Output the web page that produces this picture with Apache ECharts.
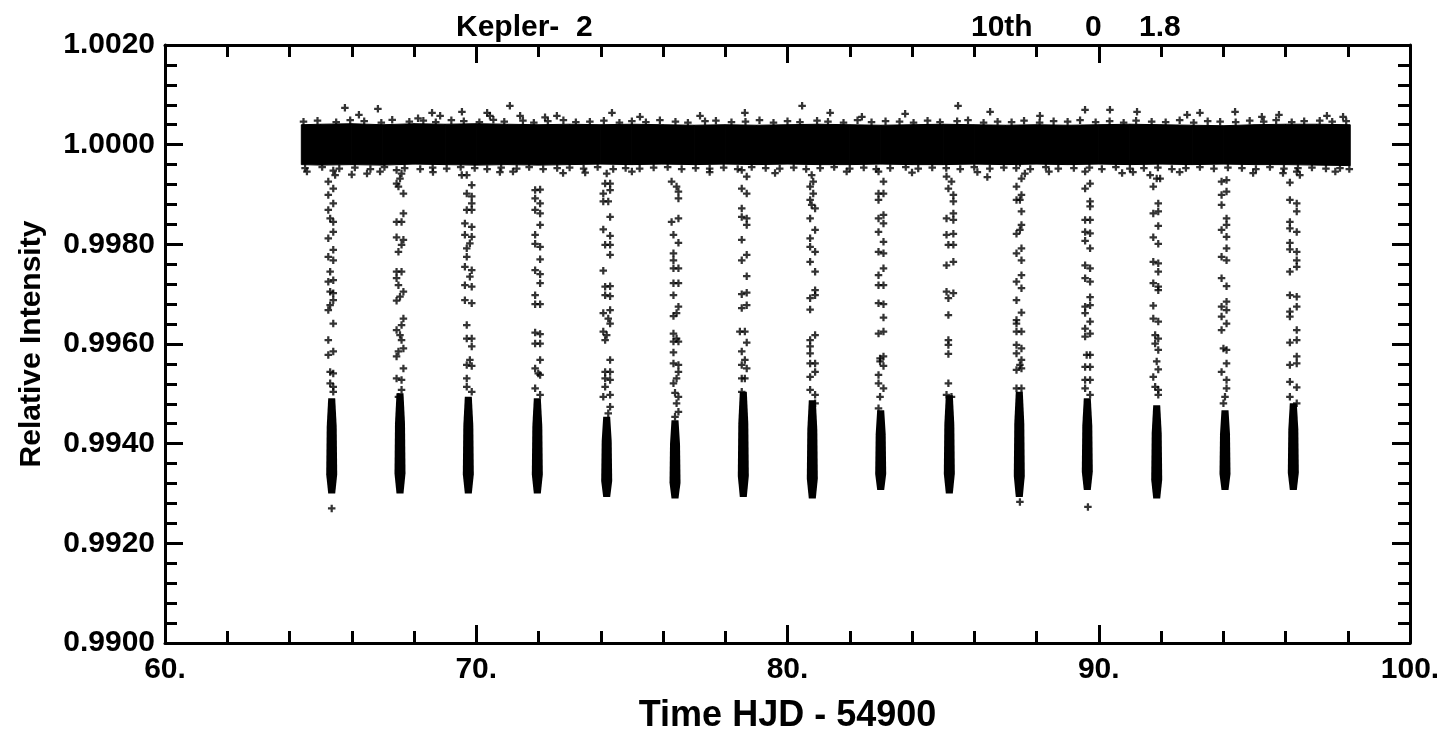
<!DOCTYPE html>
<html><head><meta charset="utf-8">
<script src="https://cdn.jsdelivr.net/npm/echarts@6/dist/echarts.min.js"></script>
<style>html,body{margin:0;padding:0;background:#fff}#c{width:1446px;height:732px}</style>
</head><body><div id="c"></div>
<script>
// ---- data ----
const xTickLabels = ['60.', '70.', '80.', '90.', '100.'];
const yTickLabels = ['0.9900', '0.9920', '0.9940', '0.9960', '0.9980', '1.0000', '1.0020'];

// out-of-transit band envelope (time, upper, lower)
const bandT  = [64.38, 65.0, 66.0, 67.0, 68.0, 69.0, 70.0, 71.0, 72.0, 73.0, 74.0, 75.0, 76.0, 77.0, 78.0, 79.0, 80.0, 81.0, 82.0, 83.0, 84.0, 85.0, 86.0, 87.0, 88.0, 89.0, 90.0, 91.0, 92.0, 93.0, 94.0, 95.0, 96.0, 97.0, 98.08];
const bandHi = [1.00040, 1.00041, 1.00042, 1.00040, 1.00042, 1.00041, 1.00042, 1.00041, 1.00040, 1.00041, 1.00040, 1.00041, 1.00040, 1.00039, 1.00040, 1.00039, 1.00040, 1.00041, 1.00040, 1.00039, 1.00040, 1.00041, 1.00040, 1.00039, 1.00040, 1.00039, 1.00040, 1.00041, 1.00040, 1.00039, 1.00038, 1.00040, 1.00041, 1.00041, 1.00040];
const bandLo = [0.99960, 0.99959, 0.99960, 0.99959, 0.99961, 0.99960, 0.99959, 0.99960, 0.99959, 0.99960, 0.99961, 0.99960, 0.99961, 0.99960, 0.99961, 0.99960, 0.99961, 0.99960, 0.99960, 0.99961, 0.99960, 0.99960, 0.99961, 0.99960, 0.99961, 0.99960, 0.99961, 0.99960, 0.99961, 0.99960, 0.99961, 0.99960, 0.99960, 0.99959, 0.99958];

// ragged edge points of the band
const topEdgeT = [64.45, 64.9, 65.5, 65.95, 66.4, 66.95, 67.3, 67.85, 68.3, 68.7, 69.2, 69.6, 70.1, 70.55, 70.9, 71.5, 71.85, 72.3, 72.8, 73.2, 73.65, 74.1, 74.6, 75.0, 75.45, 75.9, 76.4, 76.8, 77.35, 77.7, 78.2, 78.65, 79.1, 79.55, 80.0, 80.4, 80.95, 81.3, 81.8, 82.25, 82.7, 83.15, 83.6, 84.05, 84.5, 84.9, 85.45, 85.8, 86.3, 86.75, 87.2, 87.6, 88.1, 88.55, 89.0, 89.4, 89.9, 90.35, 90.8, 91.2, 91.7, 92.15, 92.6, 93.05, 93.5, 93.9, 94.4, 94.85, 95.3, 95.7, 96.2, 96.6, 97.1, 97.5, 97.95];
const topEdgeF = [1.00046, 1.00048, 1.00045, 1.00049, 1.00047, 1.00044, 1.00050, 1.00046, 1.00048, 1.00045, 1.00049, 1.00047, 1.00045, 1.00050, 1.00046, 1.00048, 1.00044, 1.00047, 1.00049, 1.00045, 1.00046, 1.00048, 1.00044, 1.00047, 1.00045, 1.00049, 1.00046, 1.00044, 1.00047, 1.00048, 1.00045, 1.00046, 1.00049, 1.00044, 1.00047, 1.00045, 1.00048, 1.00046, 1.00044, 1.00049, 1.00045, 1.00047, 1.00046, 1.00044, 1.00048, 1.00045, 1.00047, 1.00049, 1.00044, 1.00046, 1.00045, 1.00048, 1.00044, 1.00047, 1.00046, 1.00049, 1.00045, 1.00047, 1.00044, 1.00048, 1.00046, 1.00045, 1.00049, 1.00044, 1.00047, 1.00046, 1.00045, 1.00048, 1.00046, 1.00049, 1.00045, 1.00047, 1.00048, 1.00046, 1.00047];
const botEdgeT = [64.5, 65.05, 65.6, 66.1, 66.6, 67.05, 67.7, 68.2, 68.6, 69.05, 69.5, 69.95, 70.35, 70.8, 71.3, 71.7, 72.15, 72.6, 73.0, 73.45, 73.9, 74.4, 74.8, 75.25, 75.7, 76.15, 76.6, 77.05, 77.5, 77.95, 78.4, 78.85, 79.3, 79.75, 80.2, 80.6, 81.05, 81.5, 82.0, 82.45, 82.85, 83.3, 83.8, 84.2, 84.65, 85.1, 85.55, 86.0, 86.5, 86.95, 87.35, 87.8, 88.3, 88.7, 89.2, 89.7, 90.1, 90.55, 91.0, 91.45, 91.9, 92.35, 92.8, 93.25, 93.7, 94.15, 94.6, 95.05, 95.5, 95.95, 96.4, 96.85, 97.3, 97.75, 98.05];
const botEdgeF = [0.99953, 0.99955, 0.99952, 0.99954, 0.99951, 0.99955, 0.99953, 0.99951, 0.99954, 0.99952, 0.99955, 0.99953, 0.99951, 0.99954, 0.99952, 0.99955, 0.99951, 0.99953, 0.99954, 0.99952, 0.99955, 0.99951, 0.99953, 0.99952, 0.99954, 0.99955, 0.99951, 0.99953, 0.99952, 0.99954, 0.99951, 0.99955, 0.99953, 0.99952, 0.99954, 0.99951, 0.99953, 0.99955, 0.99952, 0.99954, 0.99951, 0.99953, 0.99955, 0.99952, 0.99954, 0.99953, 0.99951, 0.99955, 0.99952, 0.99954, 0.99953, 0.99951, 0.99955, 0.99952, 0.99953, 0.99954, 0.99951, 0.99955, 0.99952, 0.99953, 0.99954, 0.99951, 0.99953, 0.99955, 0.99952, 0.99954, 0.99953, 0.99951, 0.99955, 0.99952, 0.99953, 0.99954, 0.99952, 0.99953, 0.99951];

// scattered points outside the band (time, flux)
const outT = [65.78, 66.23, 66.84, 68.13, 68.58, 68.84, 69.54, 70.35, 70.44, 71.08, 71.41, 72.21, 72.59, 74.36, 75.26, 77.19, 78.63, 80.47, 81.37, 82.39, 83.78, 85.48, 86.51, 88.11, 89.56, 90.36, 91.23, 92.84, 93.25, 94.38, 95.24, 95.79, 97.33, 97.85,
              64.56, 66.00, 66.49, 66.91, 68.61, 70.76, 71.18, 72.79, 73.50, 75.00, 77.50, 79.60, 81.90, 84.00, 86.10, 86.42, 88.40, 90.75, 91.10, 92.60, 94.96, 95.92, 97.60];
const outF = [1.00074, 1.00060, 1.00072, 1.00053, 1.00064, 1.00058, 1.00066, 1.00064, 1.00058, 1.00078, 1.00058, 1.00055, 1.00058, 1.00064, 1.00056, 1.00058, 1.00064, 1.00078, 1.00064, 1.00056, 1.00062, 1.00078, 1.00066, 1.00058, 1.00070, 1.00070, 1.00066, 1.00060, 1.00064, 1.00066, 1.00056, 1.00060, 1.00058, 1.00056,
              0.99946, 0.99940, 0.99942, 0.99946, 0.99945, 0.99945, 0.99946, 0.99943, 0.99944, 0.99946, 0.99945, 0.99943, 0.99946, 0.99944, 0.99945, 0.99935, 0.99946, 0.99943, 0.99945, 0.99945, 0.99943, 0.99943, 0.99946];

// transit mid-times and the dense bottom of each transit
const transitT = [65.356, 67.550, 69.745, 71.962, 74.191, 76.386, 78.580, 80.797, 82.994, 85.199, 87.447, 89.632, 91.862, 94.056, 96.251];
const coreHi = [0.99491, 0.99501, 0.99494, 0.99491, 0.99454, 0.99447, 0.99504, 0.99487, 0.99467, 0.99497, 0.99504, 0.99491, 0.99477, 0.99467, 0.99481];
const coreLo = [0.99300, 0.99300, 0.99300, 0.99300, 0.99293, 0.99290, 0.99293, 0.99290, 0.99307, 0.99300, 0.99293, 0.99307, 0.99290, 0.99307, 0.99307];

// sparse in-transit points: [time offset from mid-transit, flux]
const transitPts = [
 [[0.05,0.99948],[0.11,0.99939],[-0.11,0.99926],[0.05,0.99912],[-0.11,0.99899],[0.05,0.99882],[-0.11,0.99869],[-0.05,0.99852],[0.05,0.99845],[0.05,0.99825],[-0.11,0.99812],[0.05,0.99789],[-0.11,0.99775],[0.05,0.99768],[-0.05,0.99745],[0.05,0.99728],[-0.11,0.99725],[-0.05,0.99705],[0.05,0.99702],[0.05,0.99688],[-0.05,0.99678],[-0.11,0.99668],[0.05,0.99641],[-0.11,0.99608],[0.05,0.99585],[-0.11,0.99578],[-0.05,0.99544],[0.05,0.99541],[-0.05,0.99521],[0.05,0.99514],[0.05,0.99504],[0,0.99270]],
 [[-0.11,0.99949],[0.05,0.99942],[0,0.99932],[-0.11,0.99922],[-0.05,0.99916],[0.11,0.99902],[0.11,0.99862],[-0.11,0.99845],[0.05,0.99845],[-0.11,0.99814],[0.11,0.99809],[0.05,0.99799],[-0.05,0.99785],[-0.11,0.99745],[0.05,0.99745],[-0.11,0.99732],[-0.05,0.99718],[0.11,0.99705],[0,0.99695],[-0.11,0.99687],[0.11,0.99651],[0.05,0.99638],[-0.11,0.99628],[0,0.99618],[0.05,0.99608],[0.11,0.99591],[-0.05,0.99585],[-0.11,0.99575],[0.11,0.99551],[-0.11,0.99531],[0.05,0.99528],[0.05,0.99508],[-0.05,0.99494]],
 [[-0.21,0.99939],[-0.05,0.99939],[0.11,0.99919],[-0.05,0.99902],[0.11,0.99896],[0.11,0.99882],[-0.05,0.99869],[0.11,0.99869],[-0.11,0.99842],[0.11,0.99835],[-0.11,0.99819],[0.11,0.99815],[0.05,0.99802],[-0.05,0.99792],[-0.05,0.99775],[-0.11,0.99755],[0.11,0.99748],[0.05,0.99735],[-0.11,0.99718],[0.11,0.99715],[-0.11,0.99688],[0.11,0.99682],[-0.05,0.99638],[-0.05,0.99611],[0.11,0.99611],[0.11,0.99595],[0.05,0.99568],[-0.05,0.99558],[0.11,0.99556],[-0.05,0.99531],[-0.05,0.99514],[0.11,0.99504]],
 [[-0.07,0.99909],[0.09,0.99910],[-0.07,0.99892],[0.09,0.99882],[-0.07,0.99869],[0.09,0.99862],[0.09,0.99839],[-0.07,0.99819],[-0.07,0.99801],[0.09,0.99795],[0.09,0.99770],[-0.07,0.99748],[0.09,0.99740],[0.09,0.99722],[-0.07,0.99698],[-0.07,0.99680],[0.09,0.99680],[-0.07,0.99623],[0.09,0.99620],[-0.07,0.99601],[0.09,0.99601],[0.09,0.99568],[-0.07,0.99551],[0.03,0.99541],[0.09,0.99538],[-0.07,0.99511],[0.09,0.99498]],
 [[0,0.99942],[-0.05,0.99922],[0.11,0.99922],[-0.11,0.99902],[0.11,0.99909],[-0.11,0.99886],[0.05,0.99886],[0.11,0.99855],[-0.11,0.99830],[0.11,0.99817],[-0.05,0.99799],[0.11,0.99799],[0.11,0.99779],[-0.11,0.99747],[-0.05,0.99715],[0.11,0.99716],[-0.05,0.99698],[0.11,0.99696],[-0.11,0.99662],[0.11,0.99668],[0.05,0.99651],[0.11,0.99641],[-0.11,0.99625],[0,0.99618],[-0.05,0.99608],[0.11,0.99568],[-0.05,0.99544],[0.11,0.99544],[-0.05,0.99531],[0.11,0.99528],[-0.05,0.99514],[-0.11,0.99494],[0.11,0.99498],[0.11,0.99474],[0.05,0.99461]],
 [[-0.11,0.99926],[0.05,0.99916],[0.11,0.99906],[0.11,0.99892],[-0.11,0.99845],[0.11,0.99852],[-0.05,0.99819],[0.11,0.99803],[-0.05,0.99782],[-0.05,0.99768],[-0.05,0.99752],[0.11,0.99752],[-0.05,0.99722],[0.11,0.99722],[-0.05,0.99698],[0.11,0.99675],[0.05,0.99662],[-0.05,0.99656],[-0.05,0.99621],[0.05,0.99611],[-0.05,0.99605],[0.11,0.99605],[-0.05,0.99583],[-0.05,0.99561],[0.11,0.99558],[0.11,0.99544],[0.05,0.99531],[-0.05,0.99521],[0,0.99502],[0.11,0.99494],[0.05,0.99481],[0.11,0.99464],[0,0.99454]],
 [[-0.05,0.99949],[0.11,0.99936],[-0.05,0.99912],[0.11,0.99902],[-0.05,0.99872],[-0.05,0.99855],[0.11,0.99852],[0.11,0.99839],[-0.05,0.99809],[-0.05,0.99768],[0.11,0.99779],[0.11,0.99736],[-0.05,0.99700],[0.11,0.99703],[-0.05,0.99672],[0.11,0.99678],[-0.11,0.99625],[0.05,0.99625],[0.11,0.99603],[-0.05,0.99585],[0.05,0.99568],[-0.05,0.99558],[0.11,0.99551],[-0.05,0.99531],[0.05,0.99531],[-0.05,0.99504]],
 [[-0.02,0.99939],[0.03,0.99926],[-0.07,0.99916],[0.03,0.99902],[-0.07,0.99889],[-0.02,0.99879],[0.09,0.99872],[-0.07,0.99852],[0.09,0.99829],[-0.07,0.99812],[-0.07,0.99795],[0.09,0.99785],[-0.07,0.99765],[0.09,0.99745],[0.09,0.99708],[-0.07,0.99692],[0.09,0.99698],[-0.07,0.99669],[0.09,0.99618],[-0.07,0.99608],[-0.07,0.99595],[-0.07,0.99581],[-0.07,0.99561],[0.09,0.99561],[-0.07,0.99534],[0.09,0.99544],[-0.07,0.99508],[0.09,0.99498],[0.09,0.99481]],
 [[-0.07,0.99946],[0.09,0.99926],[-0.07,0.99902],[0.09,0.99902],[-0.07,0.99889],[-0.07,0.99852],[0.09,0.99859],[0.09,0.99842],[-0.07,0.99825],[0.09,0.99805],[-0.07,0.99785],[0.09,0.99782],[0.09,0.99752],[-0.07,0.99738],[-0.07,0.99718],[0.09,0.99718],[-0.07,0.99682],[0.09,0.99680],[0.09,0.99653],[-0.07,0.99621],[0.09,0.99625],[-0.02,0.99571],[0.09,0.99575],[-0.02,0.99565],[0.09,0.99556],[-0.07,0.99538],[-0.07,0.99521],[0.09,0.99511],[-0.02,0.99494],[-0.07,0.99471]],
 [[-0.09,0.99936],[0.07,0.99926],[-0.03,0.99912],[0.13,0.99899],[0.13,0.99886],[0.13,0.99862],[-0.09,0.99852],[0.13,0.99849],[-0.09,0.99819],[0.13,0.99821],[-0.03,0.99799],[0.13,0.99799],[-0.09,0.99758],[0.13,0.99765],[-0.09,0.99705],[0.13,0.99702],[-0.03,0.99692],[-0.03,0.99658],[-0.03,0.99608],[-0.03,0.99598],[-0.03,0.99580],[-0.03,0.99521],[-0.09,0.99498],[0.07,0.99494]],
 [[0.02,0.99963],[0.18,0.99942],[0.07,0.99932],[-0.09,0.99916],[0.07,0.99899],[-0.09,0.99889],[0.02,0.99889],[0.07,0.99866],[0.07,0.99839],[0.02,0.99829],[-0.09,0.99821],[0.07,0.99792],[-0.09,0.99782],[0.07,0.99768],[0.07,0.99738],[-0.09,0.99725],[0.07,0.99712],[-0.09,0.99688],[0.07,0.99663],[-0.09,0.99648],[-0.09,0.99641],[-0.09,0.99625],[0.07,0.99625],[-0.09,0.99598],[0.07,0.99591],[-0.09,0.99581],[0.07,0.99568],[0.02,0.99558],[-0.09,0.99548],[0.07,0.99551],[-0.09,0.99511],[0.07,0.99511],[0.02,0.99283]],
 [[-0.07,0.99946],[0.09,0.99922],[-0.07,0.99912],[0.09,0.99886],[0.09,0.99876],[-0.07,0.99849],[0.09,0.99849],[-0.07,0.99825],[0.09,0.99822],[-0.07,0.99807],[0.09,0.99792],[-0.07,0.99758],[0.09,0.99752],[-0.07,0.99732],[0.09,0.99725],[0.09,0.99694],[-0.07,0.99675],[0.09,0.99678],[-0.07,0.99662],[0.09,0.99645],[-0.07,0.99631],[0.09,0.99621],[-0.07,0.99615],[-0.02,0.99578],[0.09,0.99578],[-0.07,0.99554],[0.09,0.99554],[-0.07,0.99528],[0.09,0.99528],[-0.07,0.99511],[0.09,0.99498],[0.02,0.99273]],
 [[-0.21,0.99939],[0,0.99932],[0.11,0.99932],[-0.11,0.99916],[0.05,0.99882],[-0.11,0.99862],[0.05,0.99866],[0.05,0.99837],[-0.11,0.99814],[0.05,0.99801],[-0.11,0.99765],[0.05,0.99762],[0.05,0.99745],[-0.11,0.99722],[0.05,0.99715],[0.05,0.99708],[-0.11,0.99677],[-0.11,0.99651],[0.05,0.99645],[-0.05,0.99618],[0.05,0.99611],[-0.05,0.99601],[0.05,0.99588],[0,0.99565],[0.05,0.99549],[-0.11,0.99534],[-0.05,0.99514],[0.05,0.99508],[0.05,0.99498]],
 [[-0.11,0.99926],[0.05,0.99929],[-0.11,0.99899],[0.05,0.99906],[-0.11,0.99879],[0.05,0.99852],[0.05,0.99839],[-0.11,0.99829],[0.05,0.99815],[0.05,0.99792],[-0.11,0.99775],[0.05,0.99768],[-0.11,0.99732],[0.05,0.99716],[-0.11,0.99675],[0.05,0.99685],[0.05,0.99668],[-0.11,0.99655],[0.05,0.99641],[-0.11,0.99628],[-0.05,0.99591],[0.05,0.99588],[0.05,0.99561],[-0.11,0.99544],[0.05,0.99528],[0.05,0.99511],[0,0.99494],[-0.05,0.99481]],
 [[-0.11,0.99924],[0.21,0.99939],[0.11,0.99946],[-0.11,0.99889],[0.11,0.99882],[0.11,0.99866],[-0.11,0.99845],[-0.11,0.99832],[0.11,0.99825],[-0.11,0.99803],[-0.11,0.99790],[0.11,0.99785],[0.11,0.99768],[0.11,0.99755],[-0.11,0.99745],[-0.11,0.99698],[0.11,0.99695],[-0.11,0.99665],[0.11,0.99675],[-0.11,0.99655],[0.11,0.99628],[-0.11,0.99603],[0.11,0.99608],[0.11,0.99575],[-0.11,0.99558],[0.11,0.99561],[-0.11,0.99524],[0.11,0.99513],[-0.11,0.99494],[0.11,0.99481]]
];

// ---- chart ----
const FONT = "'Liberation Sans', Arial, Helvetica, sans-serif";
const PLUS = 'path://M3.5,0H6.5V3.5H10V6.5H6.5V10H3.5V6.5H0V3.5H3.5Z';
const txt = {fontFamily: FONT, fontWeight: 'bold', fontSize: 30, color: '#000'};
const nameTxt = {fontFamily: FONT, fontWeight: 'bold', fontSize: 36, color: '#000'};

const bandSegs = [];
for (let i = 0; i < bandT.length - 1; i++) {
  bandSegs.push([bandT[i], bandLo[i], bandHi[i], bandT[i + 1], bandLo[i + 1], bandHi[i + 1]]);
}
const cores = transitT.map((t, i) => [t, coreLo[i], coreHi[i]]);
const sparse = [];
transitPts.forEach((pts, i) => pts.forEach(p => sparse.push([transitT[i] + p[0], p[1]])));
const outliers = outT.map((t, i) => [t, outF[i]])
  .concat(topEdgeT.map((t, i) => [t, topEdgeF[i]]))
  .concat(botEdgeT.map((t, i) => [t, botEdgeF[i]]));

const xMajor = [60, 70, 80, 90, 100];
const yMajor = [0.990, 0.992, 0.994, 0.996, 0.998, 1.000, 1.002];

function axisCommon(pos, showLabel) {
  return {
    type: 'value', position: pos,
    axisLine: {show: true, onZero: false, lineStyle: {color: '#000', width: 3}},
    axisTick: {show: true, inside: true, length: 18, lineStyle: {color: '#000', width: 3}},
    minorTick: {show: true, splitNumber: 5, length: 12, lineStyle: {color: '#000', width: 3}},
    splitLine: {show: false}, minorSplitLine: {show: false},
    axisLabel: {show: showLabel}
  };
}

const chart = echarts.init(document.getElementById('c'), null, {renderer: 'canvas'});
chart.setOption({
  backgroundColor: '#fff',
  animation: false,
  title: [
    {text: 'Kepler-  2', left: 451, top: 8, textStyle: txt},
    {text: '10th', left: 966, top: 8, textStyle: txt},
    {text: '0', left: 1080, top: 8, textStyle: txt},
    {text: '1.8', left: 1134, top: 8, textStyle: txt}
  ],
  grid: {left: 165, right: 36, top: 45, bottom: 89, containLabel: false, outerBoundsMode: 'none'},
  xAxis: [
    Object.assign(axisCommon('bottom', true), {
      min: 60, max: 100, interval: 10,
      axisLabel: Object.assign({show: true, margin: 12, showMinLabel: true, showMaxLabel: true,
        formatter: v => xTickLabels[xMajor.indexOf(Math.round(v))] || ''}, txt),
      name: 'Time HJD - 54900', nameLocation: 'middle', nameGap: 55,
      nameTextStyle: nameTxt
    }),
    Object.assign(axisCommon('top', false), {min: 60, max: 100, interval: 10})
  ],
  yAxis: [
    Object.assign(axisCommon('left', true), {
      min: 0.990, max: 1.002, interval: 0.002,
      axisLabel: Object.assign({show: true, margin: 10, showMinLabel: true, showMaxLabel: true,
        formatter: v => { const k = yMajor.findIndex(m => Math.abs(m - v) < 1e-7); return k >= 0 ? yTickLabels[k] : ''; }}, txt),
      name: 'Relative Intensity', nameLocation: 'middle', nameGap: 118, nameRotate: 90,
      nameTextStyle: txt
    }),
    Object.assign(axisCommon('right', false), {min: 0.990, max: 1.002, interval: 0.002})
  ],
  series: [
    {
      type: 'custom', xAxisIndex: 0, yAxisIndex: 0, data: bandSegs, clip: true, z: 2,
      renderItem: (params, api) => {
        const a = api.coord([api.value(0), api.value(1)]);
        const b = api.coord([api.value(0), api.value(2)]);
        const c = api.coord([api.value(3), api.value(5)]);
        const d = api.coord([api.value(3), api.value(4)]);
        return {type: 'polygon', shape: {points: [a, b, c, d]},
          style: {fill: '#000', stroke: '#000', lineWidth: 1}};
      }
    },
    {
      type: 'custom', xAxisIndex: 0, yAxisIndex: 0, data: cores, clip: true, z: 3,
      renderItem: (params, api) => {
        const t = api.value(0);
        const top = api.coord([t, api.value(2)]);
        const bot = api.coord([t, api.value(1)]);
        const h = bot[1] - top[1];
        const x = top[0];
        return {type: 'polygon', shape: {points: [
            [x - 3.5, top[1]], [x + 3.5, top[1]], [x + 5, top[1] + h * 0.3], [x + 5.5, top[1] + h * 0.8],
            [x + 3.5, bot[1]], [x - 3.5, bot[1]], [x - 5.5, top[1] + h * 0.8], [x - 5, top[1] + h * 0.3]]},
          style: {fill: '#000'}};
      }
    },
    {type: 'scatter', data: sparse, symbol: PLUS, symbolSize: 7.5, itemStyle: {color: '#000'}, z: 4, silent: true},
    {type: 'scatter', data: outliers, symbol: PLUS, symbolSize: 7.5, itemStyle: {color: '#000'}, z: 4, silent: true}
  ]
});
</script>
</body></html>
